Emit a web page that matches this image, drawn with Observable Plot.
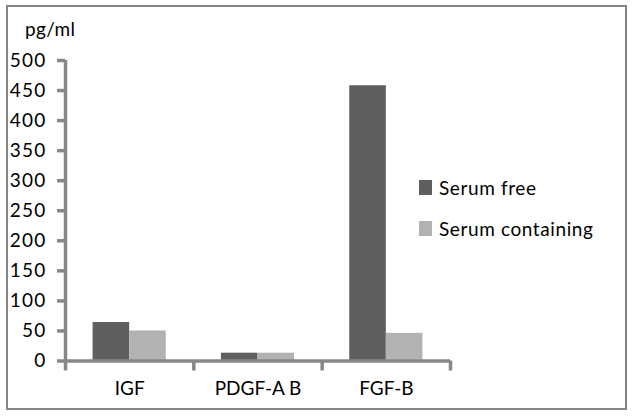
<!DOCTYPE html>
<html>
<head>
<meta charset="utf-8">
<script src="https://cdn.jsdelivr.net/npm/d3@7"></script>
<script src="https://cdn.jsdelivr.net/npm/@observablehq/plot@0.6"></script>
<style>
  html, body { margin: 0; padding: 0; background: #fff; }
  #wrap { position: relative; width: 639px; height: 419px; overflow: hidden; font-family: Lato, "Open Sans", sans-serif; color: #000; }
  #frame { position: absolute; left: 6px; top: 5px; width: 621px; height: 405px; box-sizing: border-box; border: 2px solid #858585; pointer-events: none; }
  #unit { position: absolute; left: 25px; top: 19px; font-size: 19px; line-height: 19px; letter-spacing: 0.3px; }
  .leg { position: absolute; left: 419px; font-size: 19px; line-height: 19px; white-space: nowrap; letter-spacing: 0.6px; }
  .leg .sw { position: absolute; left: 0; width: 13px; height: 15px; }
  .leg .lb { position: absolute; left: 20px; top: 0; }
  #chart svg { position: absolute; left: 0; top: 0; }
  #chart svg g[aria-label="y-axis tick label"] text { letter-spacing: 1.2px; }
</style>
</head>
<body>
<div id="wrap">
  <div id="chart"></div>
  <div id="frame"></div>
  <div id="unit"></div>
  <div id="legend"></div>
</div>
<script>
const categories = ["IGF", "PDGF-A B", "FGF-B"];
const seriesNames = ["Serum free", "Serum containing"];
const serumFree = [64, 13, 458];
const serumContaining = [50, 13, 46];
const seriesColors = ["#5f5f5f", "#b2b2b2"];
const yTicks = [0, 50, 100, 150, 200, 250, 300, 350, 400, 450, 500];
const unitLabel = "pg/ml";

const axisColor = "#878787";
const axisWidth = 3.5;
const seriesValues = [serumFree, serumContaining];
const groupStart = 0.215, barW = 0.285;
const bars = [];
categories.forEach((c, i) => {
  seriesValues.forEach((vals, s) => {
    const x1 = i + groupStart + s * barW;
    bars.push({category: c, series: seriesNames[s], x1, x2: x1 + barW, value: vals[i]});
  });
});
const sepTicks = d3.range(categories.length + 1);

const hasAxisMarks = typeof Plot.axisY === "function";
const axisMarks = hasAxisMarks ? [
  Plot.axisY({ticks: yTicks, tickSize: 8, tickPadding: 11, stroke: axisColor, strokeWidth: axisWidth, fill: "#000", label: null}),
  Plot.axisX({ticks: sepTicks, tickSize: 10, tickFormat: () => "", stroke: axisColor, strokeWidth: axisWidth, label: null})
] : [];

const chart = Plot.plot({
  width: 639,
  height: 419,
  marginLeft: 65,
  marginRight: 189,
  marginTop: 60,
  marginBottom: 58.5,
  style: {fontFamily: "Lato, 'Open Sans', sans-serif", fontSize: "19px", color: "#000", background: "transparent", overflow: "visible"},
  x: hasAxisMarks ? {domain: [0, categories.length]} : {domain: [0, categories.length], ticks: sepTicks, tickFormat: () => "", tickSize: 10, label: null},
  y: hasAxisMarks ? {domain: [0, 500]} : {domain: [0, 500], ticks: yTicks, tickSize: 8, tickPadding: 11, label: null},
  color: {domain: seriesNames, range: seriesColors},
  marks: [
    ...axisMarks,
    Plot.rectY(bars, {x1: "x1", x2: "x2", y: "value", fill: "series"}),
    Plot.ruleX([0], {y1: 0, y2: 500, stroke: axisColor, strokeWidth: axisWidth}),
    Plot.ruleY([0], {x1: 0, x2: categories.length, stroke: axisColor, strokeWidth: axisWidth}),
    Plot.text(categories, {x: (d, i) => i + 0.5, frameAnchor: "bottom", dy: 33.5, text: d => d, fill: "#000"})
  ]
});
if (!hasAxisMarks) {
  chart.querySelectorAll('g[aria-label^="x-axis"] line, g[aria-label^="y-axis"] line').forEach(l => {
    l.setAttribute("stroke", axisColor);
    l.setAttribute("stroke-width", axisWidth);
  });
}
document.getElementById("chart").appendChild(chart);
document.getElementById("unit").textContent = unitLabel;

const legend = document.getElementById("legend");
seriesNames.forEach((name, i) => {
  const row = document.createElement("div");
  row.className = "leg";
  row.style.top = (178 + i * 41) + "px";
  const sw = document.createElement("div");
  sw.className = "sw";
  sw.style.background = seriesColors[i];
  sw.style.top = "1.5px";
  const lb = document.createElement("div");
  lb.className = "lb";
  lb.textContent = name;
  row.appendChild(sw);
  row.appendChild(lb);
  legend.appendChild(row);
});
</script>
</body>
</html>
